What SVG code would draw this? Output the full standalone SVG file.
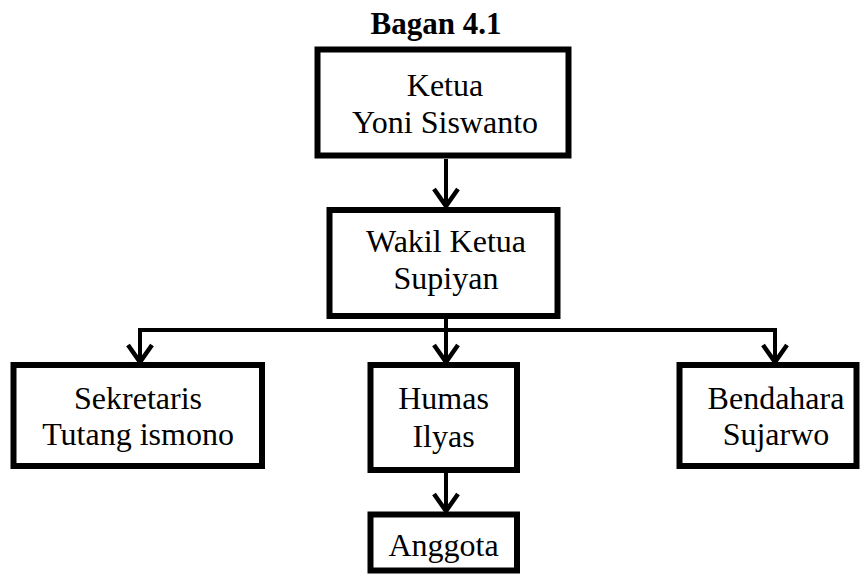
<svg xmlns="http://www.w3.org/2000/svg" width="868" height="577" viewBox="0 0 868 577">
<style>
.box{fill:#fff;stroke:#000;stroke-width:6}
.t{font-family:"Liberation Serif","Times New Roman",serif;font-size:32px;fill:#000;text-anchor:middle}
.title{font-weight:bold;font-size:31px}
.c{fill:none;stroke:#000;stroke-width:4}
.ah{fill:none;stroke:#000;stroke-width:4.5;stroke-linejoin:miter}
</style>
<rect width="868" height="577" fill="#fff"/>
<text class="t title" x="436" y="34">Bagan 4.1</text>
<g id="connectors">
<line class="c" x1="446" y1="159" x2="446" y2="206"/>
<polyline class="ah" points="434,189 446,206 458,189"/>
<polyline class="c" points="446,319 446,330"/>
<polyline class="c" points="140,362 140,330 775,330 775,362"/>
<polyline class="ah" points="128,345 140,362 152,345"/>
<polyline class="ah" points="763,345 775,362 787,345"/>
<line class="c" x1="446" y1="330" x2="446" y2="362"/>
<polyline class="ah" points="434,345 446,362 458,345"/>
<line class="c" x1="446" y1="473" x2="446" y2="511"/>
<polyline class="ah" points="434,494 446,511 458,494"/>
</g>
<g id="ketua">
<rect class="box" x="317.5" y="49.5" width="251" height="106"/>
<text class="t" x="445" y="96">Ketua</text>
<text class="t" x="445" y="133">Yoni Siswanto</text>
</g>
<g id="wakil">
<rect class="box" x="329.5" y="210" width="228" height="106"/>
<text class="t" x="446" y="252">Wakil Ketua</text>
<text class="t" x="446" y="289">Supiyan</text>
</g>
<g id="sekretaris">
<rect class="box" x="13.5" y="365" width="248.5" height="101"/>
<text class="t" x="138" y="409">Sekretaris</text>
<text class="t" x="138" y="445">Tutang ismono</text>
</g>
<g id="humas">
<rect class="box" x="370.5" y="365" width="146.5" height="105"/>
<text class="t" x="443.5" y="409">Humas</text>
<text class="t" x="443.5" y="447">Ilyas</text>
</g>
<g id="bendahara">
<rect class="box" x="679.5" y="365" width="177" height="101"/>
<text class="t" x="776" y="409">Bendahara</text>
<text class="t" x="776" y="445">Sujarwo</text>
</g>
<g id="anggota">
<rect class="box" x="370.5" y="514.5" width="146.5" height="56"/>
<text class="t" x="443.5" y="556">Anggota</text>
</g>
</svg>
